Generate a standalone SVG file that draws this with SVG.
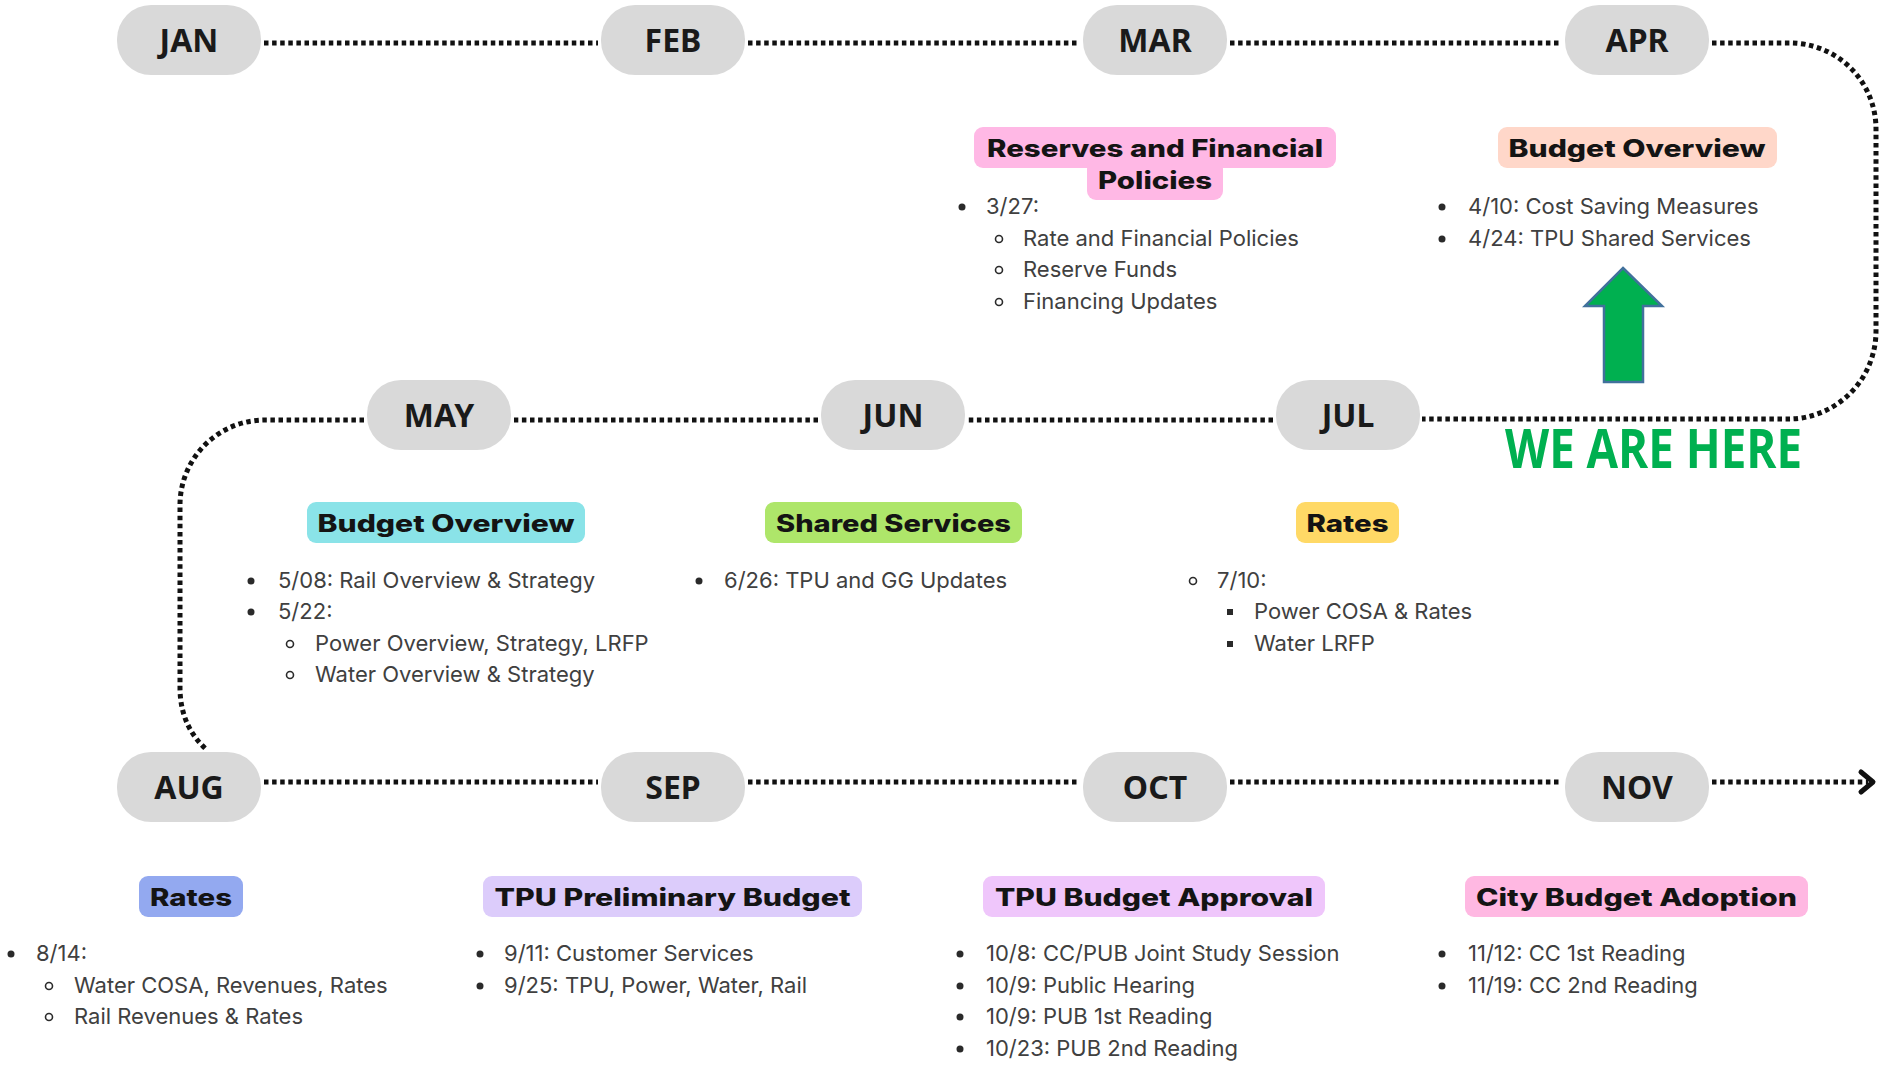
<svg xmlns="http://www.w3.org/2000/svg" width="1880" height="1067" viewBox="0 0 1880 1067">
  <defs>
    <style>
      .pill{fill:#D9D9D9}
      .mon{font-family:"Noto Sans","DejaVu Sans",sans-serif;font-weight:700;font-size:32px;fill:#1a1a1a;text-anchor:middle}
      .hd{font-family:Inter,"Noto Sans",sans-serif;font-weight:800;font-size:24px;fill:#141414;text-anchor:middle}
      .tx{font-family:Inter,"Noto Sans",sans-serif;font-size:22px;fill:#404040}
      .dot{fill:#2a2a2a}
      .ring{fill:none;stroke:#2a2a2a;stroke-width:1.6}
      .sq{fill:#2a2a2a}
      .conn{fill:none;stroke:#111;stroke-width:5;stroke-dasharray:4.5 3.6}
      .chev{fill:none;stroke:#111;stroke-width:5;stroke-linecap:round;stroke-linejoin:round}
    </style>
  </defs>
  <rect width="1880" height="1067" fill="#ffffff"/>

  <!-- dotted timeline -->
  <g id="connectors">
    <path class="conn" d="M264,43 H598 M748,43 H1080 M1230,43 H1562"/>
    <path class="conn" d="M1712,43 H1790 A86,86 0 0 1 1876,129 V331 A88,88 0 0 1 1788,419 H1422"/>
    <path class="conn" d="M1273,420 H968 M818,420 H514"/>
    <path class="conn" d="M364,420 H265 A85,85 0 0 0 180,505 V690 Q181,727 207,750"/>
    <path class="conn" d="M264,782 H598 M748,782 H1080 M1230,782 H1562 M1712,782 H1868"/>
    <path class="chev" d="M1861,772 L1873,782 L1861,792"/>
  </g>

  <!-- month markers -->
  <g id="jan"><rect class="pill" x="117" y="5" width="144" height="70" rx="34"/><text class="mon" x="189" y="52">JAN</text></g>
  <g id="feb"><rect class="pill" x="601" y="5" width="144" height="70" rx="34"/><text class="mon" x="673" y="52">FEB</text></g>
  <g id="mar"><rect class="pill" x="1083" y="5" width="144" height="70" rx="34"/><text class="mon" x="1155" y="52">MAR</text></g>
  <g id="apr"><rect class="pill" x="1565" y="5" width="144" height="70" rx="34"/><text class="mon" x="1637" y="52">APR</text></g>
  <g id="may"><rect class="pill" x="367" y="380" width="144" height="70" rx="34"/><text class="mon" x="439" y="427">MAY</text></g>
  <g id="jun"><rect class="pill" x="821" y="380" width="144" height="70" rx="34"/><text class="mon" x="893" y="427">JUN</text></g>
  <g id="jul"><rect class="pill" x="1276" y="380" width="144" height="70" rx="34"/><text class="mon" x="1348" y="427">JUL</text></g>
  <g id="aug"><rect class="pill" x="117" y="752" width="144" height="70" rx="34"/><text class="mon" x="189" y="799">AUG</text></g>
  <g id="sep"><rect class="pill" x="601" y="752" width="144" height="70" rx="34"/><text class="mon" x="673" y="799">SEP</text></g>
  <g id="oct"><rect class="pill" x="1083" y="752" width="144" height="70" rx="34"/><text class="mon" x="1155" y="799">OCT</text></g>
  <g id="nov"><rect class="pill" x="1565" y="752" width="144" height="70" rx="34"/><text class="mon" x="1637" y="799">NOV</text></g>

  <!-- March: reserves and financial policies -->
  <g id="mar-topic">
    <rect x="974" y="127" width="362" height="41" rx="9" fill="#FFB8E5"/>
    <rect x="1087" y="160" width="136" height="40" rx="9" fill="#FFB8E5"/>
    <text class="hd" x="1155" y="157" textLength="336" lengthAdjust="spacingAndGlyphs">Reserves and Financial</text>
    <text class="hd" x="1155" y="189" textLength="114" lengthAdjust="spacingAndGlyphs">Policies</text>
    <circle class="dot" cx="962" cy="207" r="3.5"/>
    <text class="tx" x="986" y="214">3/27:</text>
    <circle class="ring" cx="999" cy="239" r="3.5"/>
    <text class="tx" x="1023" y="246">Rate and Financial Policies</text>
    <circle class="ring" cx="999" cy="270" r="3.5"/>
    <text class="tx" x="1023" y="277">Reserve Funds</text>
    <circle class="ring" cx="999" cy="302" r="3.5"/>
    <text class="tx" x="1023" y="309">Financing Updates</text>
  </g>

  <!-- April: budget overview -->
  <g id="apr-topic">
    <rect x="1498" y="127" width="279" height="41" rx="9" fill="#FFD7C9"/>
    <text class="hd" x="1637" y="157" textLength="257" lengthAdjust="spacingAndGlyphs">Budget Overview</text>
    <circle class="dot" cx="1442" cy="207" r="3.5"/>
    <text class="tx" x="1468" y="214">4/10: Cost Saving Measures</text>
    <circle class="dot" cx="1442" cy="239" r="3.5"/>
    <text class="tx" x="1468" y="246">4/24: TPU Shared Services</text>
  </g>

  <!-- current position marker -->
  <g id="we-are-here">
    <path d="M1623,268 L1662,306 L1643,306 L1643,382 L1604,382 L1604,306 L1585,306 Z" fill="#00B050" stroke="#41719C" stroke-width="2.5" stroke-linejoin="miter"/>
    <text x="1505" y="468" font-family="'Open Sans','Noto Sans',sans-serif" font-weight="700" font-size="53" fill="#00B050" textLength="297" lengthAdjust="spacingAndGlyphs">WE ARE HERE</text>
  </g>

  <!-- May: budget overview -->
  <g id="may-topic">
    <rect x="307" y="502" width="278" height="41" rx="9" fill="#8AE3E8"/>
    <text class="hd" x="446" y="532" textLength="257" lengthAdjust="spacingAndGlyphs">Budget Overview</text>
    <circle class="dot" cx="251" cy="581" r="3.5"/>
    <text class="tx" x="278" y="588">5/08: Rail Overview &amp; Strategy</text>
    <circle class="dot" cx="251" cy="612" r="3.5"/>
    <text class="tx" x="278" y="619">5/22:</text>
    <circle class="ring" cx="290" cy="644" r="3.5"/>
    <text class="tx" x="315" y="651">Power Overview, Strategy, LRFP</text>
    <circle class="ring" cx="290" cy="675" r="3.5"/>
    <text class="tx" x="315" y="682">Water Overview &amp; Strategy</text>
  </g>

  <!-- June: shared services -->
  <g id="jun-topic">
    <rect x="765" y="502" width="257" height="41" rx="9" fill="#AEE66A"/>
    <text class="hd" x="893.5" y="532" textLength="235" lengthAdjust="spacingAndGlyphs">Shared Services</text>
    <circle class="dot" cx="699" cy="581" r="3.5"/>
    <text class="tx" x="724" y="588">6/26: TPU and GG Updates</text>
  </g>

  <!-- July: rates -->
  <g id="jul-topic">
    <rect x="1296" y="502" width="103" height="41" rx="9" fill="#FFD966"/>
    <text class="hd" x="1347.5" y="532" textLength="82" lengthAdjust="spacingAndGlyphs">Rates</text>
    <circle class="ring" cx="1193" cy="581" r="3.5"/>
    <text class="tx" x="1217" y="588">7/10:</text>
    <rect class="sq" x="1227" y="609" width="6" height="6"/>
    <text class="tx" x="1254" y="619">Power COSA &amp; Rates</text>
    <rect class="sq" x="1227" y="641" width="6" height="6"/>
    <text class="tx" x="1254" y="651">Water LRFP</text>
  </g>

  <!-- August: rates -->
  <g id="aug-topic">
    <rect x="139" y="876" width="104" height="41" rx="9" fill="#93A9F0"/>
    <text class="hd" x="191" y="906" textLength="82" lengthAdjust="spacingAndGlyphs">Rates</text>
    <circle class="dot" cx="11" cy="954" r="3.5"/>
    <text class="tx" x="36" y="961">8/14:</text>
    <circle class="ring" cx="49" cy="986" r="3.5"/>
    <text class="tx" x="74" y="993">Water COSA, Revenues, Rates</text>
    <circle class="ring" cx="49" cy="1017" r="3.5"/>
    <text class="tx" x="74" y="1024">Rail Revenues &amp; Rates</text>
  </g>

  <!-- September: preliminary budget -->
  <g id="sep-topic">
    <rect x="483" y="876" width="379" height="41" rx="9" fill="#DCCCFB"/>
    <text class="hd" x="672.5" y="906" textLength="356" lengthAdjust="spacingAndGlyphs">TPU Preliminary Budget</text>
    <circle class="dot" cx="480" cy="954" r="3.5"/>
    <text class="tx" x="504" y="961">9/11: Customer Services</text>
    <circle class="dot" cx="480" cy="986" r="3.5"/>
    <text class="tx" x="504" y="993">9/25: TPU, Power, Water, Rail</text>
  </g>

  <!-- October: budget approval -->
  <g id="oct-topic">
    <rect x="983" y="876" width="342" height="41" rx="9" fill="#EFC6FB"/>
    <text class="hd" x="1154" y="906" textLength="318" lengthAdjust="spacingAndGlyphs">TPU Budget Approval</text>
    <circle class="dot" cx="960" cy="954" r="3.5"/>
    <text class="tx" x="986" y="961">10/8: CC/PUB Joint Study Session</text>
    <circle class="dot" cx="960" cy="986" r="3.5"/>
    <text class="tx" x="986" y="993">10/9: Public Hearing</text>
    <circle class="dot" cx="960" cy="1017" r="3.5"/>
    <text class="tx" x="986" y="1024">10/9: PUB 1st Reading</text>
    <circle class="dot" cx="960" cy="1049" r="3.5"/>
    <text class="tx" x="986" y="1056">10/23: PUB 2nd Reading</text>
  </g>

  <!-- November: city budget adoption -->
  <g id="nov-topic">
    <rect x="1465" y="876" width="343" height="41" rx="9" fill="#FFB8E2"/>
    <text class="hd" x="1636.5" y="906" textLength="321" lengthAdjust="spacingAndGlyphs">City Budget Adoption</text>
    <circle class="dot" cx="1442" cy="954" r="3.5"/>
    <text class="tx" x="1468" y="961">11/12: CC 1st Reading</text>
    <circle class="dot" cx="1442" cy="986" r="3.5"/>
    <text class="tx" x="1468" y="993">11/19: CC 2nd Reading</text>
  </g>
</svg>
